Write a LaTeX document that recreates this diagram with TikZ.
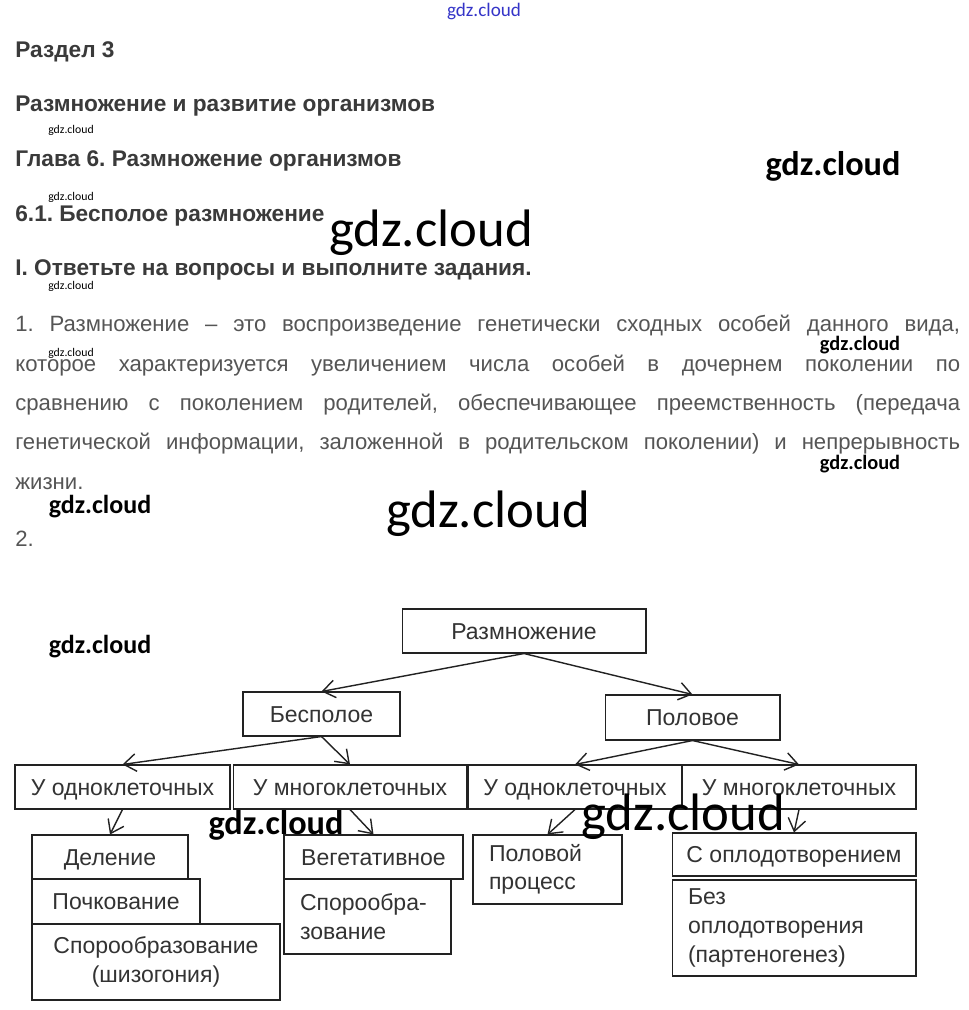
\documentclass[tikz,border=0pt]{standalone}
\usepackage{fontspec}
\setmainfont{Liberation Sans}
\newfontfamily\wmfont{Carlito}
\usepackage{xcolor}
\usetikzlibrary{arrows.meta}

\definecolor{headc}{HTML}{3A3A3A}
\definecolor{parac}{HTML}{555555}
\definecolor{txtc}{HTML}{333333}
\definecolor{linec}{HTML}{222222}
\definecolor{wmblue}{HTML}{3434C8}

\begin{document}
\frenchspacing
\begin{tikzpicture}[x=0.02cm, y=-0.02cm,
    >={Straight Barb[length=7pt,width=10pt]},
    head/.style={anchor=west, inner sep=0pt, text=headc, font=\bfseries\fontsize{12.9}{15}\selectfont},
    para/.style={anchor=north west, inner sep=0pt, text=parac, text width=18.9cm, align=justify,
      font=\fontsize{12.6}{22.4}\selectfont},
    box/.style={draw=linec, line width=0.6pt, text=txtc, inner sep=0pt, align=center,
      minimum height=0.88cm, font=\fontsize{13.1}{16.3}\selectfont},
    sbox/.style={box, text height=9.4pt, text depth=0pt},
    lbox/.style={box, align=left, inner xsep=0.32cm},
    arr/.style={->, draw=linec, line width=0.8pt},
    wmsmall/.style={inner sep=0pt, font=\wmfont\fontsize{6.7}{8}\selectfont},
    wmmid/.style={inner sep=0pt, font=\wmfont\bfseries\fontsize{11.6}{13}\selectfont},
    wmlarge/.style={inner sep=0pt, font=\wmfont\bfseries\fontsize{14.8}{17}\selectfont},
    wmbig/.style={inner sep=0pt, font=\wmfont\bfseries\fontsize{19.5}{22}\selectfont},
    wmhuge/.style={inner sep=0pt, font=\wmfont\fontsize{30}{34}\selectfont}]
  \useasboundingbox[fill=white] (0,0) rectangle (968,1010);

  % Headings
  \node[head] (razdel) at (15,52) {Раздел 3};
  \node[head] (tema) at (15,106) {Размножение и развитие организмов};
  \node[head] (glava) at (15,161) {Глава 6. Размножение организмов};
  \node[head] (punkt) at (15,216) {6.1. Бесполое размножение};
  \node[head] (zadan) at (15,270) {I. Ответьте на вопросы и выполните задания.};

  % Answers
  \node[para] (otvet1) at (15,315) {1. Размножение – это воспроизведение генетически сходных особей данного вида,\linebreak
    которое характеризуется увеличением числа особей в дочернем поколении по\linebreak
    сравнению с поколением родителей, обеспечивающее преемственность (передача\linebreak
    генетической информации, заложенной в родительском поколении) и непрерывность\linebreak
    жизни.};
  \node[para, anchor=west, text width=] (otvet2) at (15,539) {2.};

  % Nodes
  \node[sbox, minimum width=4.88cm] (razm) at (524,631) {Размножение};
  \node[sbox, minimum width=3.14cm] (besp) at (321.5,714) {Бесполое};
  \node[sbox, minimum width=3.5cm, minimum height=0.9cm] (polov) at (692.5,717.5) {Половое};
  \node[sbox, minimum width=4.3cm] (bodn) at (122.5,787) {У одноклеточных};
  \node[sbox, minimum width=4.68cm] (bmn) at (350,787) {У многоклеточных};
  \node[sbox, minimum width=4.28cm] (podn) at (575,787) {У одноклеточных};
  \node[sbox, minimum width=4.68cm] (pmn) at (799,787) {У многоклеточных};
  \node[sbox, minimum width=3.12cm] (delen) at (110,857) {Деление};
  \node[sbox, minimum width=3.36cm, minimum height=0.9cm] (pochk) at (116,901.5) {Почкование};
  \node[box, minimum width=4.96cm, minimum height=1.52cm] (shiz) at (156,962) {Спорообразование\\(шизогония)};
  \node[sbox, minimum width=3.58cm] (veget) at (373.5,857) {Вегетативное};
  \node[lbox, text width=2.7cm, minimum height=1.5cm] (spor) at (367.5,916.5) {Спорообра-\\зование};
  \node[lbox, text width=2.34cm, minimum height=1.38cm] (polpr) at (547.5,869.5) {Половой\\процесс};
  \node[sbox, minimum width=4.88cm, minimum height=0.86cm] (sopl) at (794,854.5) {С оплодотворением};
  \node[lbox, text width=4.24cm, minimum height=1.92cm] (bezopl) at (794,928) {Без\\оплодотворения\\(партеногенез)};

  % Arrows
  \draw[arr] (razm.south) -- (besp.north);
  \draw[arr] (razm.south) -- (polov.north);
  \draw[arr] (besp.south) -- (bodn.north);
  \draw[arr] (besp.south) -- (bmn.north);
  \draw[arr] (polov.south) -- (podn.north);
  \draw[arr] (polov.south) -- (pmn.north);
  \draw[arr] (bodn.south) -- (delen.north);
  \draw[arr] (bmn.south) -- (veget.north);
  \draw[arr] (podn.south) -- (polpr.north);
  \draw[arr] (pmn.south) -- (sopl.north);

  % Watermarks
  \node[wmsmall, text=wmblue, font=\wmfont\fontsize{10.9}{12}\selectfont] (wm0) at (484,12) {gdz.cloud};
  \node[wmsmall] (wm1) at (71,130) {gdz.cloud};
  \node[wmsmall] (wm2) at (71,197) {gdz.cloud};
  \node[wmsmall] (wm3) at (71,286) {gdz.cloud};
  \node[wmsmall] (wm4) at (71,353) {gdz.cloud};
  \node[wmbig] (wm5) at (833,166) {gdz.cloud};
  \node[wmhuge] (wm6) at (431,233) {gdz.cloud};
  \node[wmmid] (wm7) at (860,345) {gdz.cloud};
  \node[wmmid] (wm8) at (860,464) {gdz.cloud};
  \node[wmlarge] (wm9) at (100,507) {gdz.cloud};
  \node[wmhuge] (wm10) at (488,514) {gdz.cloud};
  \node[wmlarge] (wm11) at (100,647) {gdz.cloud};
  \node[wmbig] (wm12) at (276,825) {gdz.cloud};
  \node[wmhuge] (wm13) at (683,817) {gdz.cloud};
\end{tikzpicture}
\end{document}
